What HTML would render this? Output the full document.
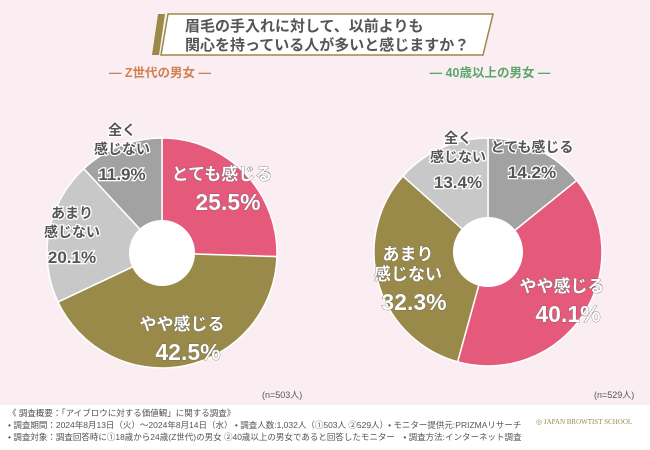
<!DOCTYPE html>
<html><head><meta charset="utf-8"><style>
body{margin:0;width:650px;height:450px;overflow:hidden;font-family:"Liberation Sans","Noto Sans CJK JP",sans-serif;}
#wrap{position:relative;width:650px;height:450px;background:#fbeef2;}
.foot{position:absolute;left:0;top:405px;width:650px;height:45px;background:#fff;}
.ft{position:absolute;font-size:8.5px;color:#555;white-space:nowrap;}
</style></head><body>
<div id="wrap">
<svg width="650" height="450" style="position:absolute;left:0;top:0" id="svg">
  <g>
    <polygon points="158,14 165,14 159,55 152,55" fill="#9a8a4a"/>
    <polygon points="168,14 493,14 483,55 161,55" fill="#fff" stroke="#9a8a4a" stroke-width="1.5"/>
    <text x="185" y="31" font-size="15" fill="#555" font-weight="bold">眉毛の手入れに対して、以前よりも</text>
    <text x="185" y="50" font-size="15" fill="#555" font-weight="bold">関心を持っている人が多いと感じますか？</text>
  </g>
  <text x="160" y="77" font-size="12.5" fill="#d2804f" font-weight="bold" text-anchor="middle">― Z世代の男女 ―</text>
  <text x="490" y="77" font-size="12.5" fill="#5aa66a" font-weight="bold" text-anchor="middle">― 40歳以上の男女 ―</text>
  <g id="pies"></g>
  <text x="262" y="398" font-size="9" fill="#555">(n=503人)</text>
  <text x="594" y="398" font-size="9" fill="#555">(n=529人)</text>
</svg>
<div class="foot"></div>
<div class="ft" style="left:8px;top:407px">《 調査概要：「アイブロウに対する価値観」に関する調査》</div>
<div class="ft" style="left:8px;top:419px">• 調査期間：2024年8月13日（火）～2024年8月14日（水） • 調査人数:1,032人（①503人 ②529人）• モニター提供元:PRIZMAリサーチ</div>
<div class="ft" style="left:8px;top:431px">• 調査対象：調査回答時に①18歳から24歳(Z世代)の男女 ②40歳以上の男女であると回答したモニター　• 調査方法:インターネット調査</div>
<div class="ft" style="left:536px;top:418px;font-family:'Liberation Serif',serif;font-size:7px;color:#9a8a4a">◎ JAPAN BROWTIST SCHOOL</div>
</div>
<script>
const categories=["とても感じる","やや感じる","あまり感じない","全く感じない"];
const categoryLines=[["とても感じる"],["やや感じる"],["あまり","感じない"],["全く","感じない"]];
const leftValues=[25.5,42.5,20.1,11.9];
const rightValues=[14.2,40.1,32.3,13.4];
const leftColors=["#e55a7b","#9a8a4a","#c8c8c8","#a2a2a2"];
const rightColors=["#a2a2a2","#e55a7b","#9a8a4a","#c8c8c8"];
const leftTextColors=["#fff","#fff","#555","#555"];
const rightTextColors=["#555","#fff","#fff","#555"];
/* label anchor layout (x,y of first line) per slice */
const leftLabelPos=[[222,180],[182,330],[72,218],[122,135]];
const rightLabelPos=[[532,152],[562,292],[408,260],[458,143]];
const NS="http://www.w3.org/2000/svg";
const g=document.getElementById('pies');
function mk(t,a){const e=document.createElementNS(NS,t);for(const k in a)e.setAttribute(k,a[k]);return e;}
function pie(cx,cy,r,hr,vals,cols,tcols,pos,side){
  const tot=vals.reduce((a,b)=>a+b,0);let a0=0;
  vals.forEach((v,i)=>{
    const a1=a0+v/tot*2*Math.PI;
    const x0=cx+r*Math.sin(a0),y0=cy-r*Math.cos(a0),x1=cx+r*Math.sin(a1),y1=cy-r*Math.cos(a1);
    const p=mk('path',{d:`M${cx},${cy}L${x0},${y0}A${r},${r} 0 ${a1-a0>Math.PI?1:0} 1 ${x1},${y1}Z`,fill:cols[i],stroke:'#fff','stroke-width':1.5});
    
    
    g.appendChild(p);
    a0=a1;
  });
  const h=mk('circle',{cx:cx,cy:cy,r:hr,fill:'#fff'});
  
  
  g.appendChild(h);
  vals.forEach((v,i)=>{
    const lx=pos[i][0],ly=pos[i][1];
    const lines=categoryLines[i];
    const tc=tcols[i];const big=(tc==='#fff');
    const txt=mk('text',{x:lx,y:ly,'text-anchor':'middle',fill:tc,'font-weight':'bold',stroke:big?'#555':'#fff','stroke-width':big?0.6:2.5,'paint-order':'stroke'});
    
    
    lines.forEach((l,j)=>{const s=mk('tspan',{x:lx,dy:j?(big?20:19):0,'font-size':big?17:14});s.textContent=l;txt.appendChild(s);});
    const s=mk('tspan',{x:lx+(big?6:0),dy:big?30:26,'font-size':big?23:17});s.textContent=v.toFixed(1)+'%';txt.appendChild(s);
    g.appendChild(txt);
  });
}
pie(162,253,115,33,leftValues,leftColors,leftTextColors,leftLabelPos,'left');
pie(488,252,114,35,rightValues,rightColors,rightTextColors,rightLabelPos,'right');
</script>
</body></html>
